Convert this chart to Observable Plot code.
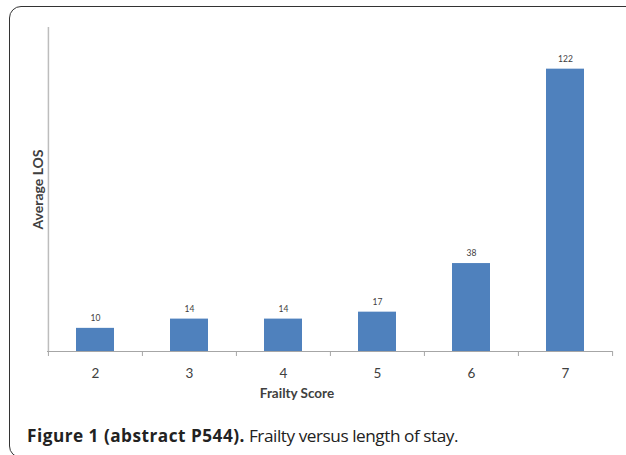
<!DOCTYPE html>
<html>
<head>
<meta charset="utf-8">
<script src="https://cdn.jsdelivr.net/npm/d3@7"></script>
<script src="https://cdn.jsdelivr.net/npm/@observablehq/plot@0.6"></script>
<style>
  html, body { margin: 0; padding: 0; background: #fff; }
  body { width: 626px; height: 455px; overflow: hidden; position: relative; }
  #frame { position: absolute; left: 9px; top: 6px; width: 660px; height: 452px;
           border: 1.5px solid #333; border-radius: 12px; box-sizing: border-box; }
  #chart { position: absolute; left: 0; top: 0; }
  #caption { position: absolute; left: 27px; top: 424px; font-family: "Open Sans", sans-serif;
             font-size: 17.2px; color: #222; white-space: nowrap; }
  #caption b { font-weight: 700; letter-spacing: 0.5px; }
  #caption span { letter-spacing: -0.45px; }
</style>
</head>
<body>
<div id="frame"></div>
<div id="chart"></div>
<div id="caption"><b>Figure 1 (abstract P544).</b><span> Frailty versus length of stay.</span></div>
<script>
const categories = ["2", "3", "4", "5", "6", "7"];
const values = [10, 14, 14, 17, 38, 122];
const xTitle = "Frailty Score";
const yTitle = "Average LOS";

const data = categories.map((c, i) => ({score: c, los: values[i]}));

const W = 626, H = 410;
const mL = 47, mR = 14, mT = 27, mB = 59;
const step = (W - mL - mR) / categories.length;

const chart = Plot.plot({
  width: W,
  height: H,
  marginLeft: mL,
  marginRight: mR,
  marginTop: mT,
  marginBottom: mB,
  style: {fontFamily: "Lato, sans-serif", background: "transparent"},
  x: {domain: categories, paddingInner: 0.6, paddingOuter: 0.3, label: null},
  y: {domain: [0, 140], axis: null},
  marks: [
    Plot.barY(data, {x: "score", y: "los", fill: "#4f81bd"}),
    Plot.text(data, {x: "score", y: "los", text: d => String(d.los), dy: -10,
      fontSize: 8.5, fill: "#404040"}),
    // y axis line
    Plot.ruleX([categories[0]], {x: d => d, dx: -step / 2, y1: 0, y2: 140,
      stroke: "#bdbdbd", strokeWidth: 1.5}),
    // x axis line
    Plot.ruleY([0], {stroke: "#a6a6a6", strokeWidth: 1.2}),
    // tick marks at category boundaries
    Plot.ruleX(categories, {x: d => d, dx: -step / 2, y1: 0, y2: 0, insetBottom: -5,
      stroke: "#a6a6a6", strokeWidth: 1}),
    Plot.ruleX([categories[categories.length - 1]], {x: d => d, dx: step / 2, y1: 0, y2: 0,
      insetBottom: -5, stroke: "#a6a6a6", strokeWidth: 1}),
    Plot.axisX({tickSize: 0, tickPadding: 17, fontSize: 13.5, fill: "#404040", label: null}),
    Plot.text([xTitle], {frameAnchor: "bottom", textAnchor: "middle", lineAnchor: "middle",
      dy: 42, dx: -33, fontSize: 13.5, fontWeight: "bold", fill: "#404040"}),
    Plot.text([yTitle], {frameAnchor: "left", textAnchor: "middle", lineAnchor: "middle",
      rotate: -90, dx: -9, fontSize: 14, fontWeight: "bold", fill: "#404040"})
  ]
});
document.getElementById("chart").appendChild(chart);
</script>
</body>
</html>
